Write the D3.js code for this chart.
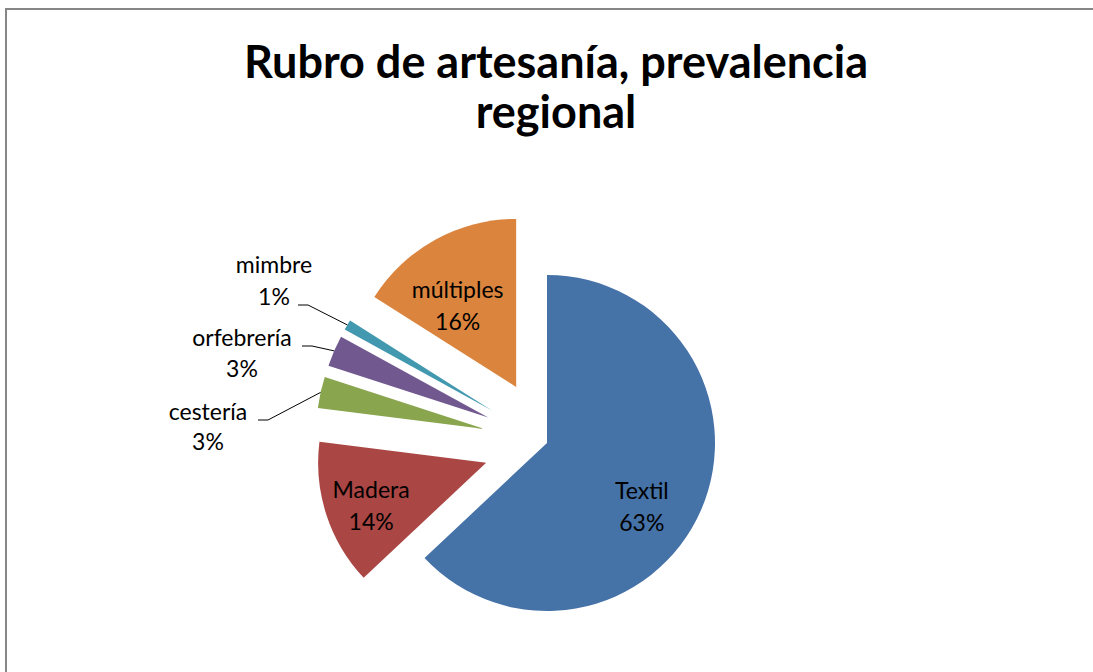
<!DOCTYPE html>
<html>
<head>
<meta charset="utf-8">
<script src="https://cdn.jsdelivr.net/npm/d3@7"></script>
<style>
  body { margin: 0; background: #fff; }
  svg { display: block; }
</style>
</head>
<body>
<script>
// chart values
const categories = ["Textil", "Madera", "cestería", "orfebrería", "mimbre", "múltiples"];
const shares = [63, 14, 3, 3, 1, 16];
const colors = ["#4572A7", "#AA4643", "#89A54E", "#71588F", "#4198AF", "#DB843D"];
const titleLines = ["Rubro de artesanía, prevalencia", "regional"];

const width = 1093, height = 672;
const cx = 547, cy = 443, radius = 168, explode = 64;
const fontFamily = "Lato, 'Open Sans', sans-serif";
const labelSize = 23;

// label layout: inside labels use centroid radius + nudge, outside ones get an anchor
const insideLabel = {
  "Textil": { r: 0.68, dx: -10, dy: 20 },
  "Madera": { r: 0.72, dx: 0, dy: 7 },
  "múltiples": { r: 0.6, dx: -10, dy: 8 }
};
// x,y = end of leader line; tx = text centre; y1,y2 = baselines
const outsideLabel = {
  "mimbre": { x: 298, y: 305, tx: 274, y1: 273, y2: 305 },
  "orfebrería": { x: 302, y: 346, tx: 242, y1: 346, y2: 377 },
  "cestería": { x: 258, y: 420, tx: 208, y1: 420, y2: 450 }
};

const svg = d3.select("body").append("svg")
  .attr("width", width)
  .attr("height", height);

// frame (only top and left edges show in the crop)
svg.append("rect")
  .attr("x", 6).attr("y", 9)
  .attr("width", width + 20).attr("height", height + 20)
  .attr("fill", "#fff")
  .attr("stroke", "#868686")
  .attr("stroke-width", 2);

svg.selectAll(".title")
  .data(titleLines)
  .enter()
  .append("text")
  .attr("class", "title")
  .attr("x", 556)
  .attr("y", (_, i) => 78 + i * 50)
  .attr("text-anchor", "middle")
  .attr("font-family", fontFamily)
  .attr("font-weight", "bold")
  .attr("font-size", 45)
  .attr("fill", "#000")
  .text(d => d);

const data = categories.map((c, i) => ({ name: c, value: shares[i], color: colors[i] }));

const pie = d3.pie()
  .sort(null)
  .value(d => d.value);

const arcs = pie(data);
const arc = d3.arc().innerRadius(0).outerRadius(radius);

// offset of each exploded slice (Textil stays in place)
function offset(d) {
  if (d.data.name === "Textil") return [0, 0];
  const a = (d.startAngle + d.endAngle) / 2;
  return [Math.sin(a) * explode, -Math.cos(a) * explode];
}

const g = svg.append("g").attr("transform", `translate(${cx},${cy})`);

const slices = g.selectAll(".slice")
  .data(arcs)
  .enter()
  .append("g")
  .attr("class", "slice")
  .attr("transform", d => `translate(${offset(d)})`);

slices.append("path")
  .attr("d", arc)
  .attr("fill", d => d.data.color);

// inside labels
slices.filter(d => insideLabel[d.data.name])
  .each(function (d) {
    const cfg = insideLabel[d.data.name];
    const lr = d3.arc().innerRadius(radius * cfg.r).outerRadius(radius * cfg.r);
    const [x, y] = lr.centroid(d);
    const t = d3.select(this).append("text")
      .attr("text-anchor", "middle")
      .attr("font-family", fontFamily)
      .attr("font-size", labelSize)
      .attr("fill", "#000");
    t.append("tspan").attr("x", x + cfg.dx).attr("y", y + cfg.dy - 9).text(d.data.name);
    t.append("tspan").attr("x", x + cfg.dx).attr("y", y + cfg.dy + 23).text(d.data.value + "%");
  });

// outside labels with leader lines
arcs.filter(d => outsideLabel[d.data.name]).forEach(d => {
  const cfg = outsideLabel[d.data.name];
  const [ox, oy] = offset(d);
  const edge = d3.arc().innerRadius(radius).outerRadius(radius).centroid(d);
  const p0 = [cx + ox + edge[0], cy + oy + edge[1]];
  const elbow = [cfg.x + 10, cfg.y];

  svg.append("path")
    .attr("d", d3.line()([[cfg.x, cfg.y], elbow, p0]))
    .attr("fill", "none")
    .attr("stroke", "#000")
    .attr("stroke-width", 1);

  const t = svg.append("text")
    .attr("text-anchor", "middle")
    .attr("font-family", fontFamily)
    .attr("font-size", labelSize)
    .attr("fill", "#000");
  t.append("tspan").attr("x", cfg.tx).attr("y", cfg.y1).text(d.data.name);
  t.append("tspan").attr("x", cfg.tx).attr("y", cfg.y2).text(d.data.value + "%");
});
</script>
</body>
</html>
